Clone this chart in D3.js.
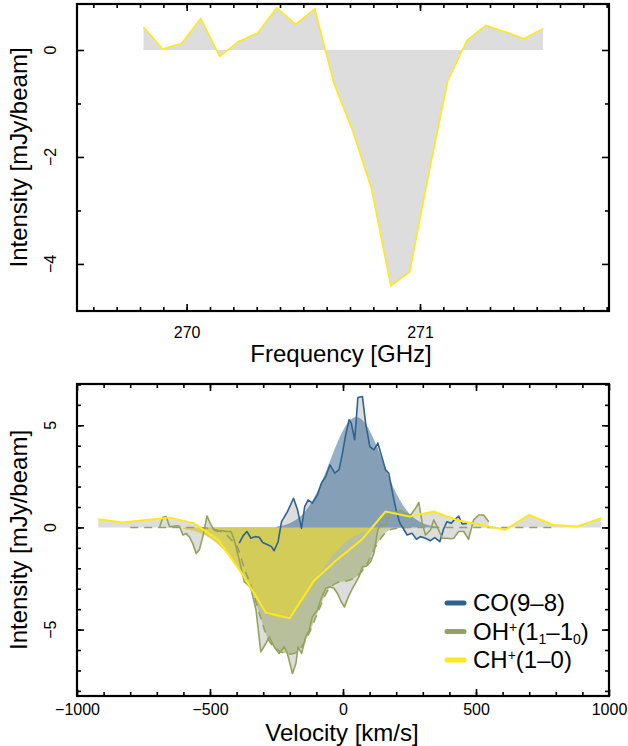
<!DOCTYPE html>
<html><head><meta charset="utf-8">
<script src="https://cdn.jsdelivr.net/npm/d3@7"></script>
<style>
body{margin:0;background:#fff}
svg{display:block}
text{font-family:"Liberation Sans",Arial,Helvetica,sans-serif;fill:#000}
</style>
</head><body>
<svg id="c" width="628" height="746"></svg>
<script>
// ---------- DATA ----------
// top panel: CH+ spectrum vs frequency
const freqCH = [269.815,269.897,269.978,270.060,270.141,270.223,270.304,270.386,270.467,270.549,270.630,270.712,270.793,270.875,270.956,271.038,271.119,271.201,271.282,271.364,271.445,271.527];
const intCHfreq = [0.43,0.02,0.12,0.59,-0.12,0.16,0.32,0.79,0.48,0.77,-0.61,-1.52,-2.61,-4.41,-4.15,-2.30,-0.58,0.18,0.46,0.34,0.21,0.40];

// bottom panel: CO(9-8)
const velCO = [-390,-375,-361,-346,-331,-315,-302,-281,-269,-259,-244,-231,-209,-186,-171,-156,-144,-131,-115,-96,-81,-65,-49,-31,-15,-2,10,23,31,44,56,73,85,101,116,131,144,160,172,189,201,214,226,241,260,276,291,310,329,345,364,379,391,406,419,435,448,466];
const intCO = [-0.77,-0.4,-0.2,-0.53,-0.45,-0.48,-0.74,-0.86,-0.94,-1.14,-0.7,0.28,0.77,1.43,0.86,-0.04,1.02,1.35,1.19,1.59,2.17,2.49,3.06,2.66,2.82,3.64,4.53,5.27,5.11,4.29,6.36,6.41,5.11,3.96,3.80,4.13,3.55,2.82,2.66,1.51,0.77,0.21,-0.04,-0.37,-0.29,-0.58,-0.45,-0.53,-0.65,-0.5,-0.7,-0.04,0.28,0.2,0.37,0.56,0.17,0.2];
const velCOfit = [-250,-225,-200,-175,-150,-125,-100,-75,-50,-25,0,25,50,75,100,125,150,175,200,225,250,275,300,325,350];
const fitCO = [0.05,0.1,0.21,0.39,0.67,1.10,1.67,2.39,3.21,4.03,4.74,5.23,5.4,5.23,4.74,4.03,3.21,2.39,1.67,1.10,0.67,0.39,0.21,0.10,0.05];

// bottom panel: OH+(1_1-1_0)
const velOH = [-690,-677,-665,-652,-640,-627,-615,-602,-590,-577,-565,-552,-540,-527,-511,-499,-486,-471,-456,-440,-421,-409,-390,-371,-358,-346,-327,-309,-290,-277,-259,-240,-221,-209,-190,-177,-169,-156,-140,-127,-115,-96,-84,-65,-49,-34,-21,-8,5,20,35,48,60,73,88,104,116,131,141,152,164,176,190,203,216,235,254,273,285,298,310,329,341,354,373,391,404,416,435,454,472,491,510,529,548];
const intOH = [0.0,0.5,0.53,0.04,0.05,0.08,0.06,-0.37,-0.29,-0.48,-0.78,-1.27,-1.1,-0.45,0.56,0.2,-0.12,-0.2,-0.15,-0.2,-0.2,-0.61,-1.59,-2.66,-2.8,-2.98,-4.04,-6.09,-5.68,-5.35,-5.84,-6.17,-5.84,-6.17,-7.15,-6.66,-5.84,-6.17,-5.35,-5.02,-4.37,-4.04,-3.55,-2.98,-2.9,-2.98,-3.23,-3.6,-3.9,-3.4,-3.0,-2.7,-2.41,-1.92,-1.9,-1.68,-1.27,-0.12,0.12,0.1,0.2,0.78,0.7,0.75,0.86,0.7,0.61,0.94,1.22,0.2,-0.37,-0.12,0.37,0.04,-0.53,-0.53,-0.55,-0.53,-0.2,-0.2,-0.58,0.37,0.61,0.61,0.28];
const velOHfit = [-800,-560,-500,-470,-440,-420,-396,-371,-340,-310,-284,-250,-220,-196,-165,-134,-96,-58,-20,20,60,90,120,150,180,220,260,800];
const fitOH = [0,0,-0.05,-0.15,-0.35,-0.6,-1.0,-2.0,-3.1,-4.4,-5.4,-5.95,-6.15,-6.2,-6.0,-5.35,-4.2,-3.1,-2.7,-2.6,-2.3,-1.8,-1.0,-0.4,-0.1,-0.02,0,0];

// bottom panel: CH+(1-0)
const velCH = [-920,-830,-740,-650,-560,-470,-380,-290,-200,-110,-20,70,160,250,340,430,520,610,700,790,880,970];
const intCH = [0.40,0.24,0.36,0.48,0.20,-0.60,-2.25,-4.17,-4.44,-2.62,-1.55,-0.61,0.78,0.53,0.78,0.35,0.12,-0.12,0.61,0.12,0.04,0.45];
const velCHfit = [-600,-560,-520,-480,-440,-400,-360,-320,-280,-240,-200,-160,-120,-80,-40,0,40,80,120,160,200];
const fitCH = [-0.08,-0.18,-0.37,-0.71,-1.23,-1.94,-2.76,-3.57,-4.18,-4.45,-4.29,-3.75,-2.97,-2.14,-1.39,-0.83,-0.44,-0.22,-0.09,-0.04,0];

// ticks
const freqMajor = [270, 271];
const freqMinor = d3.range(269.6, 271.81, 0.1);
const topYMajor = [0, -2, -4];
const topYMinor = [-1, -3];
const velMajor = [-1000, -500, 0, 500, 1000];
const velMinor = d3.range(-900, 1000, 100);
const botYMajor = [5, 0, -5];
const botYMinor = d3.range(-8, 8, 1);

// colours
const cGrey = "#dddddd";
const cCO = "#2e6390";
const cOH = "#94a25c";
const cCH = "#ffe81c";

// ---------- DRAW ----------
const svg = d3.select("#c");
const L = 77, R = 609;

function frame(g, x, y, xMaj, xMin, yMaj, yMin, xPad, xFmt, yFmt) {
  const [b, t] = y.range();
  const gx = g.append("g").attr("transform", `translate(0,${b})`)
    .call(d3.axisBottom(x).tickValues(xMaj).tickSize(-7).tickPadding(xPad).tickFormat(xFmt));
  g.append("g").attr("transform", `translate(0,${b})`)
    .call(d3.axisBottom(x).tickValues(xMin).tickSize(-4).tickFormat(""));
  g.append("g").attr("transform", `translate(0,${t})`)
    .call(d3.axisTop(x).tickValues(xMaj).tickSize(-7).tickFormat(""));
  g.append("g").attr("transform", `translate(0,${t})`)
    .call(d3.axisTop(x).tickValues(xMin).tickSize(-4).tickFormat(""));
  g.append("g").attr("transform", `translate(${L},0)`)
    .call(d3.axisLeft(y).tickValues(yMaj).tickSize(-7).tickFormat(""));
  g.append("g").attr("transform", `translate(${L},0)`)
    .call(d3.axisLeft(y).tickValues(yMin).tickSize(-4).tickFormat(""));
  g.append("g").attr("transform", `translate(${R},0)`)
    .call(d3.axisRight(y).tickValues(yMaj).tickSize(-7).tickFormat(""));
  g.append("g").attr("transform", `translate(${R},0)`)
    .call(d3.axisRight(y).tickValues(yMin).tickSize(-4).tickFormat(""));
  g.selectAll(".domain").remove();
  g.selectAll(".tick line").attr("stroke", "#000").attr("stroke-width", 1.6);
  gx.selectAll(".tick text").attr("font-size", 16).attr("font-family", '"Liberation Sans",Arial,sans-serif').attr("fill","#000");
  yMaj.forEach(v => {
    g.append("text").attr("transform", `translate(56,${y(v)}) rotate(-90)`)
      .attr("text-anchor", "middle").attr("font-size", 16).text(yFmt(v));
  });
  g.append("rect").attr("x", L).attr("y", t).attr("width", R - L).attr("height", b - t)
    .attr("fill", "none").attr("stroke", "#000").attr("stroke-width", 2.2);
}
const minus = v => (v < 0 ? "\u2212" + Math.abs(v) : String(v));

// ---- top panel ----
const fx = d3.scaleLinear().domain([269.53, 271.81]).range([L, R]);
const fy = d3.scaleLinear().domain([-4.88, 0.86]).range([311, 4]);
const gTop = svg.append("g");
const topPts = freqCH.map((f, i) => [f, intCHfreq[i]]);
gTop.append("path").datum(topPts)
  .attr("d", d3.area().x(d => fx(d[0])).y0(fy(0)).y1(d => fy(d[1])))
  .attr("fill", cGrey);
gTop.append("path").datum(topPts)
  .attr("d", d3.line().x(d => fx(d[0])).y(d => fy(d[1])))
  .attr("fill", "none").attr("stroke", cCH).attr("stroke-width", 1.6).attr("stroke-linejoin", "round");
frame(gTop, fx, fy, freqMajor, freqMinor, topYMajor, topYMinor, 16, d3.format("d"), minus);
gTop.append("text").attr("x", 341).attr("y", 362).attr("text-anchor", "middle")
  .attr("font-size", 24).text("Frequency [GHz]");
gTop.append("text").attr("transform", `translate(27,${(4 + 311) / 2}) rotate(-90)`)
  .attr("text-anchor", "middle").attr("font-size", 24).text("Intensity [mJy/beam]");

// ---- bottom panel ----
const vx = d3.scaleLinear().domain([-1000, 1000]).range([L, R]);
const vy = d3.scaleLinear().domain([-8.25, 7.02]).range([696, 384]);
const gBot = svg.append("g");
svg.append("defs").append("clipPath").attr("id", "clipB")
  .append("rect").attr("x", L).attr("y", 384).attr("width", R - L).attr("height", 312);
const plot = gBot.append("g").attr("clip-path", "url(#clipB)");

const zip = (a, b) => a.map((v, i) => [v, b[i]]);
const area0 = d3.area().x(d => vx(d[0])).y0(vy(0)).y1(d => vy(d[1]));
const areaS = d3.area().curve(d3.curveMonotoneX).x(d => vx(d[0])).y0(vy(0)).y1(d => vy(d[1]));
const lineD = d3.line().x(d => vx(d[0])).y(d => vy(d[1]));
const lineS = d3.line().curve(d3.curveMonotoneX).x(d => vx(d[0])).y(d => vy(d[1]));

const dCO = zip(velCO, intCO), dOH = zip(velOH, intOH), dCH = zip(velCH, intCH);
const fCO = zip(velCOfit, fitCO), fOH = zip(velOHfit, fitOH), fCH = zip(velCHfit, fitCH);

[dCO, dOH, dCH].forEach(d => plot.append("path").datum(d).attr("d", area0).attr("fill", cGrey));
plot.append("path").datum(fOH).attr("d", areaS).attr("fill", cOH).attr("fill-opacity", 0.5);
plot.append("path").datum(fCH).attr("d", areaS).attr("fill", "#d6cd52").attr("fill-opacity", 0.9);
plot.append("path").datum(fCO).attr("d", areaS).attr("fill", cCO).attr("fill-opacity", 0.5);
plot.append("path").datum(fOH).attr("d", lineS).attr("fill", "none")
  .attr("stroke", cOH).attr("stroke-width", 1.6).attr("stroke-dasharray", "8,6");
plot.append("path").datum(dCO).attr("d", lineD).attr("fill", "none").attr("stroke", cCO).attr("stroke-width", 1.6).attr("stroke-linejoin", "round");
plot.append("path").datum(dOH).attr("d", lineD).attr("fill", "none").attr("stroke", cOH).attr("stroke-width", 1.6).attr("stroke-linejoin", "round");
plot.append("path").datum(dCH).attr("d", lineD).attr("fill", "none").attr("stroke", cCH).attr("stroke-width", 2).attr("stroke-linejoin", "round");

frame(gBot, vx, vy, velMajor, velMinor, botYMajor, botYMinor, 8, minus, minus);
gBot.append("text").attr("x", 342).attr("y", 741).attr("text-anchor", "middle")
  .attr("font-size", 24).text("Velocity [km/s]");
gBot.append("text").attr("transform", `translate(27,${(384 + 696) / 2}) rotate(-90)`)
  .attr("text-anchor", "middle").attr("font-size", 24).text("Intensity [mJy/beam]");

// legend
const legend = [
  {c: cCO, parts: [["CO(9\u20138)", 0]]},
  {c: cOH, parts: [["OH", 0], ["+", -1], ["(1", 0], ["1", 1], ["\u20131", 0], ["0", 1], [")", 0]]},
  {c: cCH, parts: [["CH", 0], ["+", -1], ["(1\u20130)", 0]]}
];
const lg = gBot.append("g");
legend.forEach((e, i) => {
  const yy = 603 + i * 28.5;
  lg.append("line").attr("x1", 447).attr("x2", 464).attr("y1", yy).attr("y2", yy)
    .attr("stroke", e.c).attr("stroke-width", 5).attr("stroke-linecap", "round");
  const t = lg.append("text").attr("x", 473).attr("y", yy + 8).attr("font-size", 24);
  let prev = 0;
  e.parts.forEach(([s, k]) => {
    const off = k === -1 ? -8 : k === 1 ? 4 : 0;
    t.append("tspan").attr("dy", off - prev).attr("font-size", k === 0 ? 24 : 14).text(s);
    prev = off;
  });
});
</script>
</body></html>
